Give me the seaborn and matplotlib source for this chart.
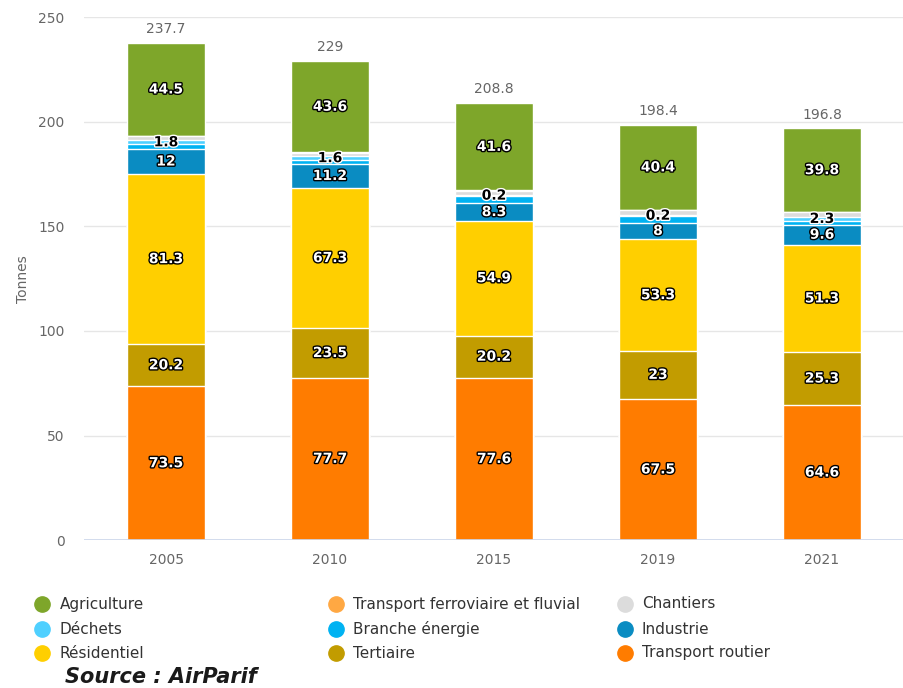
import matplotlib
matplotlib.use("Agg")
import matplotlib.pyplot as plt
import matplotlib.patheffects as pe
from matplotlib.lines import Line2D
import numpy as np
import pandas as pd
import seaborn as sns

# Émissions annuelles par secteur (tonnes)
years = ["2005", "2010", "2015", "2019", "2021"]
transport_routier = [73.5, 77.7, 77.6, 67.5, 64.6]
tertiaire = [20.2, 23.5, 20.2, 23.0, 25.3]
residentiel = [81.3, 67.3, 54.9, 53.3, 51.3]
industrie = [12.0, 11.2, 8.3, 8.0, 9.6]
branche_energie = [2.3, 2.1, 3.6, 3.2, 1.6]
dechets = [1.8, 1.6, 0.2, 0.2, 2.3]
chantiers = [2.0, 1.9, 2.3, 2.7, 2.2]
transport_ferroviaire = [0.1, 0.1, 0.1, 0.1, 0.1]
agriculture = [44.5, 43.6, 41.6, 40.4, 39.8]

# Stacking order, bottom to top
series = [
    ("Transport routier", transport_routier, "#ff7c00", True),
    ("Tertiaire", tertiaire, "#c29c00", True),
    ("Résidentiel", residentiel, "#ffcf00", True),
    ("Industrie", industrie, "#0a8cc2", True),
    ("Branche énergie", branche_energie, "#00b2f2", False),
    ("Déchets", dechets, "#4fd0ff", True),
    ("Chantiers", chantiers, "#dcdcdc", False),
    ("Transport ferroviaire et fluvial", transport_ferroviaire, "#ffa843", False),
    ("Agriculture", agriculture, "#7ea62a", True),
]
legend_order = [
    "Agriculture", "Transport ferroviaire et fluvial", "Chantiers",
    "Déchets", "Branche énergie", "Industrie",
    "Résidentiel", "Tertiaire", "Transport routier",
]

sns.set_theme(style="white")
plt.rcParams["font.family"] = ["DejaVu Sans"]

fig = plt.figure(figsize=(9.04, 6.88), dpi=100)
ax = fig.add_axes([0.093, 0.215, 0.907, 0.76])

values = np.array([s[1] for s in series])
cum = np.cumsum(values, axis=0)
bar_w = 0.48

# Draw cumulative bars from the top series down so each segment shows
for i in range(len(series) - 1, -1, -1):
    name, vals, color, _ = series[i]
    df = pd.DataFrame({"year": years, "value": cum[i]})
    sns.barplot(data=df, x="year", y="value", order=years, color=color,
                width=bar_w, edgecolor="white", linewidth=1, saturation=1,
                ax=ax, zorder=2)

# Segment value labels
for i, (name, vals, color, show) in enumerate(series):
    if not show:
        continue
    rgb = matplotlib.colors.to_rgb(color)
    light = sum(rgb) * 255 > 510
    fg, outline = ("#000000", "#ffffff") if light else ("#ffffff", "#000000")
    for j, v in enumerate(vals):
        y = cum[i][j] - v / 2
        ax.text(j, y, f"{v:g}", ha="center", va="center", fontsize=10,
                fontweight="bold", color=fg, zorder=5,
                path_effects=[pe.withStroke(linewidth=2.0, foreground=outline)])

# Totals above each bar
totals = cum[-1]
for j, t in enumerate(totals):
    ax.annotate(f"{round(t, 1):g}", (j, t), xytext=(0, 5), textcoords="offset points",
                ha="center", va="bottom", fontsize=10, color="#666666")

ax.set_ylim(0, 250)
ax.set_xlim(-0.5, 4.5)
ax.set_yticks([0, 50, 100, 150, 200, 250])
ax.grid(axis="y", color="#e6e6e6", linewidth=1, zorder=0)
ax.set_axisbelow(True)
for s in ax.spines.values():
    s.set_visible(False)
ax.axhline(0, color="#ccd6eb", linewidth=1.2, zorder=3)
ax.tick_params(axis="both", length=0, labelsize=10, labelcolor="#666666")
ax.tick_params(axis="y", pad=14)
ax.tick_params(axis="x", pad=9)
ax.set_xlabel("")
ax.set_ylabel("Tonnes", fontsize=10, color="#666666", labelpad=6)

# Legend: three columns, circle markers
colors = {s[0]: s[2] for s in series}
col_x = [0.047, 0.372, 0.691]
row_y = [1 - 604 / 688, 1 - 629 / 688, 1 - 653 / 688]
for k, name in enumerate(legend_order):
    r, c = divmod(k, 3)
    fig.add_artist(Line2D([col_x[c]], [row_y[r]], marker="o", markersize=11,
                          color=colors[name], linestyle="none",
                          transform=fig.transFigure))
    fig.text(col_x[c] + 0.019, row_y[r], name, ha="left", va="center",
             fontsize=11, color="#333333")

fig.text(0.072, 1 - 677 / 688, "Source : AirParif", ha="left", va="center",
         fontsize=15, fontweight="bold", fontstyle="italic", color="#1a1a1a")

fig.savefig("out.png", dpi=100)
